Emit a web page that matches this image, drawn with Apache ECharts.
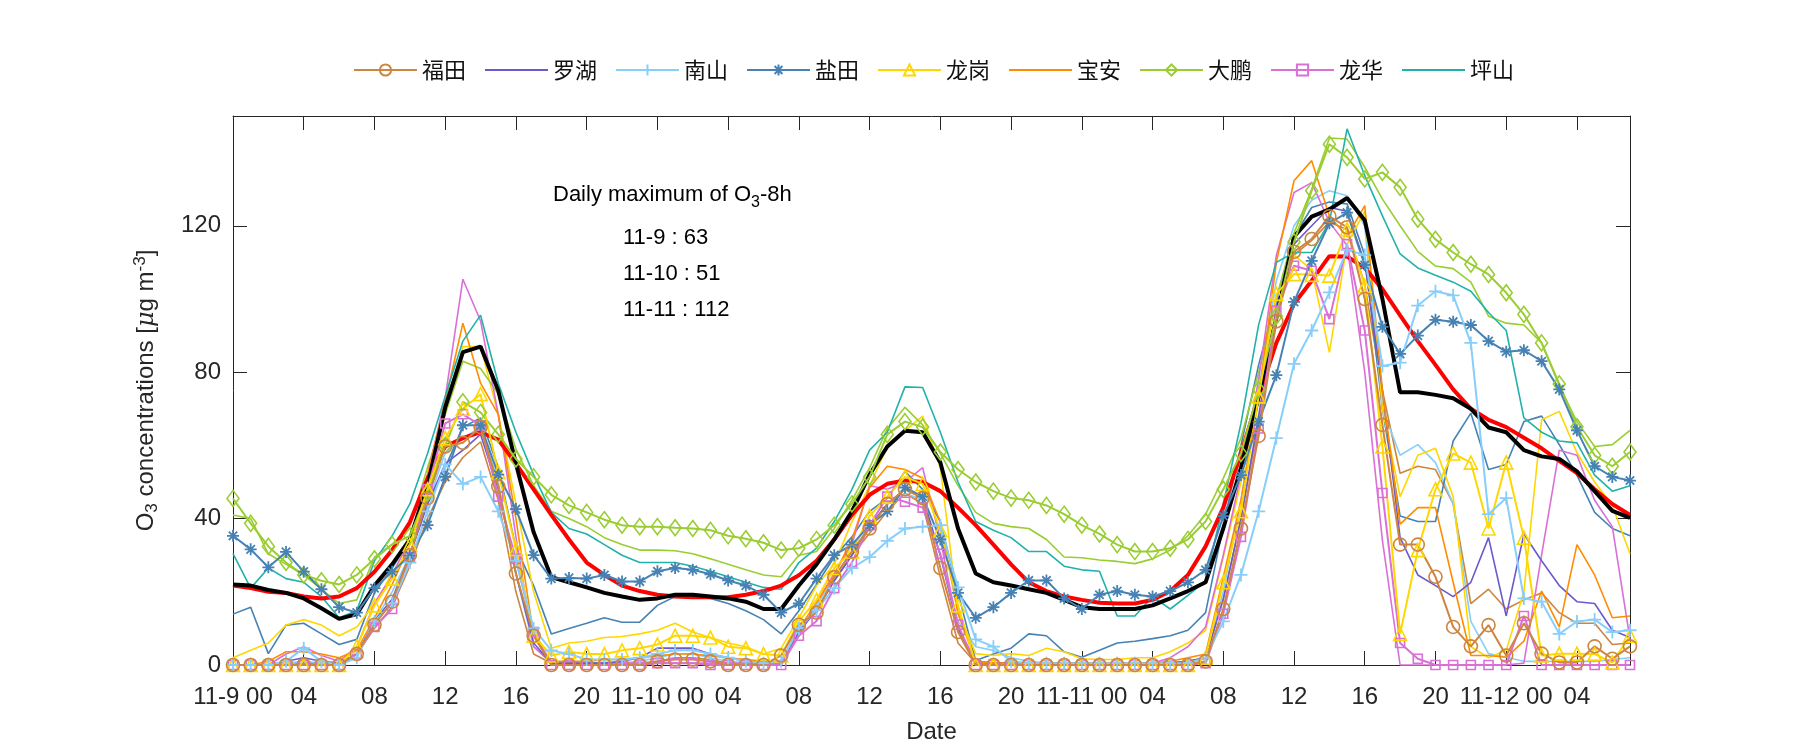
<!DOCTYPE html>
<html><head><meta charset="utf-8">
<script src="https://cdn.jsdelivr.net/npm/echarts@6/dist/echarts.min.js"></script>
<style>html,body{margin:0;padding:0;background:#fff}#c{width:1800px;height:750px}</style>
</head><body><div id="c"></div>
<script>
// ---- axis / label data ----
const dayLabels = ['11-9', '11-10', '11-11', '11-12'];
const yTicks = [0, 40, 80, 120];
const dailyMaxDays = ['11-9', '11-10', '11-11'];
const dailyMaxVals = [63, 51, 112];
const stationNames = ['福田', '罗湖', '南山', '盐田', '龙岗', '宝安', '大鹏', '龙华', '坪山'];

// ---- hourly series (11-9 00 ... 11-12 07) ----
const blackMean = [22,21.7,20.5,19.7,18.2,15.5,12.6,13.9,21.7,27.5,34.3,49,70.4,85.5,87,75,55,36.3,24,22.6,21.2,19.7,18.7,17.8,18.2,19.2,19.2,18.7,18.2,17.3,15.3,15.3,21.7,27.5,34.3,42,52,59.7,64,63.6,55.3,37.3,25,22.6,21.7,20.7,19.7,17.8,15.8,15.3,15.3,15.3,16.3,18.2,20.2,22.6,37.3,53.9,73.4,94.8,117,122.5,124.5,127.6,121.5,100,74.5,74.5,73.8,72.9,70,64.9,63.6,58.7,57,56.3,52.9,47.5,42.1,40.2];
const redMean = [21.7,21,20,19.7,18.7,18.2,18.7,21,25.5,31.4,39,51,59.7,62,63.6,61.6,55,48,41,34.3,28,24.6,21.7,20.2,19.2,18.7,18.5,18.5,18.5,19.2,20.2,21.7,24.5,28.5,34.3,41,46.5,49.5,50.4,50,47.5,43,38.2,32.9,27.5,22.6,20.2,18.7,17.8,17,16.8,16.8,17.8,20.2,24.6,32.4,43,57.8,73.4,88,98.7,105,111.7,111.6,108.5,102.7,95.5,88.5,82,75.3,70,67,65,62.1,59.2,55.8,52.4,48,44,41];

const futian = [0,0,0,0,0,0,0,3,11,17.3,30,45.6,59.7,60.7,65,48.8,25,8,0,0,0,0,0,0,1,1.5,1.5,1,0,0,0,2.6,11,14.3,24,31,37.3,44,48,45.6,26.5,9,0,0,0,0,0,0,0,0,0,0,0,0,0,1,15.3,37.3,62.6,93.9,112.9,116.4,122.6,119.6,100,65.6,32.9,32.9,24.1,10.4,5.1,10.9,2.6,11.4,3.1,0.7,0.7,5.1,1.7,5.1];
const futian2 = [0,0,0,0,0.5,0.5,0.5,3,10,16,27,40,50,56.7,61,45,20,3,0.5,0.5,0.5,0.5,0.5,0.5,1,2,2,1.5,0.5,0.5,0.5,1,10,15,23,30,36,42,47,44,24,6,0.5,0.5,0.5,0.5,0.5,0.5,0.5,0.5,0.5,0.5,0.5,0.5,1,2,18,40,66,95,112,116,121,119,104,75,52.4,54.3,53.4,44.1,16.8,20.7,15.3,17.8,19.7,14.3,11.4,11.4,5.6,6];
const luohu = [0,0,0,1,2,1,0.5,3,12,18,30,44,55,58.7,63,48,25,6,0.5,0.5,0.5,0.5,1,2,4.6,4.6,4.6,3,2,1,0.5,1,9,15,23,30,38,44,48,46,30,10,1,0.5,0.5,0.5,0.5,0.5,0.5,0.5,0.5,0.5,0.5,0.5,1,2,18,40,68,98,115,120,125,124,110,75,34.8,24.6,21.7,18.7,22.6,34.8,13.4,35.8,28.5,21.7,17.3,16.8,9.5,7.5];
const nanshan = [0,0,0,1,4.6,1,0,2,11.9,16.8,28,42,54.8,49.5,51.4,42,28.5,10,4,3,1.5,1.5,1.5,2,3,4,4,3,2,1,0.5,1,10,15,21,26.5,29.5,33.9,37.3,37.8,38.2,21.2,7,5,1,0.5,0.5,0.5,0.5,0.5,0.5,0.5,0.5,0.5,0.5,2,11.9,24.6,42,62,82.3,91.4,101.8,113.4,112,81.7,82.6,98.2,102.1,101,88,41.2,45.6,18.2,17.3,8.5,11.9,12.4,9,9.5];
const nanshan2 = [0,0,0,0.5,1,0.5,0,2,12,20,30,44,58,62,65,50,25,5,1,0.5,0.5,0.5,0.5,1,2,3,3,2,1,0.5,0.5,0.5,9,16,24,31,38,44,47,45,30,12,5,4,2,1,0.5,0.5,0.5,0.5,0.5,0.5,0.5,0.5,1,2,20,45,75,105,120,127,129.6,128.2,120,70,57.3,60.2,55.3,44.1,11.9,3.1,2.1,1,1,1,1,1,1.5,2];
const yantian = [35.3,31.6,26.7,30.9,25.5,20.7,15.8,14.3,21,25.5,29.9,38.2,51.4,65.5,65.5,52,42.6,30,23.6,23.8,23.6,24.6,22.8,22.8,25.6,26.5,26,24.8,23.1,21.7,19.2,14.3,16.8,23.6,30,32.9,38.2,42,48.5,46,34.3,19.7,12.9,15.8,19.7,23.1,23.1,18.2,15.3,19.2,20.2,19.2,18.7,20.2,22.6,26,40.7,51.9,66.5,79.2,99.2,110.4,120.7,123.6,109.3,92.4,85,90,94.3,93.8,92.9,88.5,85.6,86,83,75.3,64.1,54.3,51.4,50.4];
const yantian2 = [13.9,15.8,3.1,10.9,11.4,8.5,5.6,7,19.7,26.5,34.3,44,54,65,67.5,54,32,21.7,8.5,10,11.4,12.9,11.7,11.7,16.3,18.7,18.5,18.2,16.8,14.8,12.4,8.5,14.8,22,29.5,35,42,45.6,52.9,48,39.2,19.7,1.2,3,4.6,8.5,8,3.6,2.1,4,6,6.5,7.2,8,9.5,14.3,38,60,82,100,117,125,126.5,126,112,70,40.7,39.2,39.2,61.2,68.8,53.4,54.8,66.5,68,60.2,51.9,41.7,37.3,35.3];
const longgang = [0,0,0,0,0,0,0,5,16.3,23.6,32.9,48,62,70,74,52.7,31.7,8,2.6,3.6,3,3,4,4.6,5.6,8,8,7.5,5,4.6,3,2.6,11.9,17.8,26.5,31,40.7,46,51.4,49.5,36.8,16.3,0,0,0,0,0,0,0,0,0,0,0,0,0,2,22.6,42,73.4,101.4,106.8,106.6,106.4,119.1,103.6,59.7,8.5,31.4,48,57.8,55.3,37.3,55.3,34.8,2.6,3.1,3.1,3,0.7,8];
const longgang2 = [2,4,6,10.9,12.4,10.9,8,10.4,16.8,24.6,34.3,49,68.5,87,87,68.5,44,20,4.6,6,6.5,7.5,7.8,8.5,9.5,11.4,9,7.5,6,5,3,4.6,12.9,21.7,27.5,39.2,49,59.7,64,68,53.9,14.8,3.1,2.6,3.1,2.6,4.6,3.6,1.7,1.5,1.5,2,2,3.6,6,9.5,29.5,50,72,96,112,108,85.4,115,124,70,46,57.3,59.2,46,5,2,4,20,67,69.3,58,50,43.6,30.4];
const baoan = [0,0,1,3.6,3.6,3,2,4,12.9,22,33,52,72,93.4,77,68.5,40,8,1,1,1,1.5,1.5,2,2.5,3,3,2.5,2,1.5,1,1,10,17,24.6,34.3,48.5,54.3,53.4,51,39,14,1,0.5,0.5,0.5,0.5,0.5,0.5,0.5,0.5,0.5,0.5,1,2,3,24,45,73,110,132.3,137.8,122.7,117,125.5,75,38.5,43,43,22.6,2.6,2.6,2.1,6.5,20.2,10.4,32.9,24.6,12.9,13.4];
const dapeng = [45.5,38.7,32.4,28,24.6,23,22,24.6,29,32.9,35.3,47,60,71.9,69,63,56.3,51.4,46.5,43.6,41.7,39.7,38.2,37.8,37.8,37.5,37.3,36.8,35.3,34.5,33.4,31.4,31.9,34.3,38.2,44,51.4,63,66.5,65,58.2,53.4,50,47.5,45.6,45,43.6,41.2,38.2,35.8,32.9,31,31,31.9,34.3,39.2,48,57.8,75.3,95.3,115.6,129.6,142.3,138.7,132.8,134.6,130.5,121.8,116.3,112.7,109.5,106.7,101.7,95.8,88,76.8,65.1,57.3,54.3,58.2];
const dapeng2 = [41,40,30.4,27.5,24.6,20.7,16.8,17.8,29.5,33,38,54,68.5,83,81,74,59,49,42,40,37.8,34.8,32.9,31.4,31.4,31.2,30.4,29,27.5,26,24.6,24.1,30,31,37.3,45,53.9,64.6,70.4,65.6,57.8,49,41.7,38.7,37.8,37.3,34.3,29.5,29.3,28.7,28.3,27.7,29,31.4,35.3,41.2,51,62,80,100,118,130,144,143.7,136,127.3,120,113,109,108.3,104.6,95.3,93.4,92.9,88,76.3,66.5,59.7,60.2,64.1];
const longhua = [0,0,0,0,0,0,0,3,10.4,15.3,29.5,48,66,68.5,65.5,46,29,9,0,0,0,0,0,0,0.5,0.5,0.5,0,0,0,0,0,8,12,21,28,38.2,46,44.6,43,30.4,11,0,0,0,0,0,0,0,0,0,0,0,0,0,0.5,14,35,64.6,96.8,109.1,107.7,94.5,115,91.4,47,6,1.7,0,0,0,0,0,13.4,0,0,0,0,0,0];
const longhua2 = [0,0,0,3,5,2.6,1,5,16.8,24.6,34.3,52,73,105.4,94,68.5,35,5,0.5,0.5,0.5,0.5,0.5,0.5,0.5,0.5,0.5,0.5,0.5,0.5,0.5,0.5,8,17,25,33,49,48,50,53.9,34.3,10,0.5,0.5,0.5,0.5,0.5,0.5,0.5,0.5,0.5,0.5,0.5,2,5,10.4,30,52,78,111.9,129.1,131.8,121,114.6,80,34,0,0,0,0,0,0,0,0.5,30,58.7,57.3,45,37.8,7];
const pingshan = [30.4,21,26.5,23.6,22.6,18.7,12.9,14.8,28.5,35.3,44,57.8,73.4,88.5,95.6,77,63.6,52,41.7,37.3,35.8,32.9,30,28,28,28,27,25.6,24.1,22.6,21.2,20.7,28,31.9,39.2,48,58.7,63.6,76,75.8,63.6,50,39.2,36.8,34.8,31,31,27,26,25.6,13.4,13.4,18.7,15.3,19,23,44,66,93,110,112.7,112.7,121,146.5,133.7,122.7,112.3,108.5,106.5,104.6,102.1,96.3,91.4,67.5,63.6,61.2,60.7,51.9,47.5,49];

// ---- styles ----
const C = {ft:'#CD853F', lh:'#6A5ACD', ns:'#87CEFA', yt:'#4682B4', lg:'#FFD700', ba:'#FF8C00', dp:'#9ACD32', hua:'#DA70D6', ps:'#20B2AA'};
const PLUS = 'path://M5,0L5,10M0,5L10,5';
const STAR = 'path://M5,0L5,10M0,5L10,5M1.5,1.5L8.5,8.5M8.5,1.5L1.5,8.5';
const toXY = arr => arr.map((v, i) => [i, v]);
const CLEAR = 'rgba(0,0,0,0)';

function line(name, arr, color, width, z, marker) {
  const s = {
    type: 'line', name: name, data: toXY(arr), z: z, clip: false,
    color: color, lineStyle: {color: color, width: width},
    emphasis: {disabled: true}, animation: false
  };
  if (marker) {
    s.symbol = marker.symbol; s.symbolSize = marker.size; s.showSymbol = true;
    s.itemStyle = {color: CLEAR, borderColor: color, borderWidth: marker.bw || 1.6};
  } else {
    s.symbol = 'none'; s.showSymbol = false;
    s.itemStyle = {color: CLEAR, borderColor: CLEAR, borderWidth: 0};
  }
  return s;
}

const series = [
  line('福田 ', futian2, C.ft, 1.6, 2),
  line('南山 ', nanshan2, C.ns, 1.6, 2),
  line('盐田 ', yantian2, C.yt, 1.6, 2),
  line('龙岗 ', longgang2, C.lg, 1.6, 2),
  line('大鹏 ', dapeng2, C.dp, 1.6, 2),
  line('龙华 ', longhua2, C.hua, 1.6, 2),
  line('罗湖', luohu, C.lh, 1.6, 2),
  line('宝安', baoan, C.ba, 1.6, 2),
  line('坪山', pingshan, C.ps, 1.6, 2),
  line('mean2', redMean, '#FF0000', 4, 3),
  line('mean1', blackMean, '#000000', 4, 3),
  line('龙华', longhua, C.hua, 2, 4, {symbol: 'rect', size: 9}),
  line('大鹏', dapeng, C.dp, 2, 4, {symbol: 'diamond', size: [12, 16]}),
  line('龙岗', longgang, C.lg, 2, 4, {symbol: 'triangle', size: 13}),
  line('盐田', yantian, C.yt, 2, 4, {symbol: STAR, size: 12, bw: 1.8}),
  line('南山', nanshan, C.ns, 2, 4, {symbol: PLUS, size: 13, bw: 1.8}),
  line('福田', futian, C.ft, 2, 4, {symbol: 'circle', size: 13})
];

const fmtHour = v => {
  if (v % 4 !== 0) return '';
  const d = Math.floor(v / 24), h = v % 24;
  return h === 0 ? dayLabels[d] + ' 00' : (h < 10 ? '0' : '') + h;
};

const axisCol = '#262626';
const FONT = 'Liberation Sans';
const baseAxis = () => ({
  axisLine: {show: true, onZero: false, lineStyle: {color: axisCol, width: 1}},
  axisTick: {show: true, inside: true, length: 14, lineStyle: {color: axisCol, width: 1}},
  splitLine: {show: false}
});

const option = {
  backgroundColor: '#fff',
  animation: false,
  grid: {left: 233, right: 170, top: 116, bottom: 85, containLabel: false},
  legend: {
    data: stationNames, left: 353, top: 59, itemWidth: 63, itemHeight: 14, itemGap: 18,
    padding: 0, selectedMode: false,
    textStyle: {fontFamily: 'Noto Sans CJK SC', fontSize: 22, color: '#111'}
  },
  xAxis: [
    Object.assign(baseAxis(), {
      type: 'value', min: 0, max: 79, interval: 4, position: 'bottom',
      name: 'Date', nameLocation: 'middle', nameGap: 55,
      nameTextStyle: {fontFamily: FONT, fontSize: 24, color: axisCol},
      axisLabel: {formatter: fmtHour, fontFamily: FONT, fontSize: 24, color: axisCol, margin: 20, showMaxLabel: false, showMinLabel: true, hideOverlap: false}
    }),
    Object.assign(baseAxis(), {
      type: 'value', min: 0, max: 79, interval: 4, position: 'top',
      axisLabel: {show: false}
    })
  ],
  yAxis: [
    Object.assign(baseAxis(), {
      type: 'value', min: 0, max: 150, interval: 40, position: 'left',
      name: 'O{sub|3} concentrations [{it|μ}g m{sup|-3}]', nameLocation: 'middle', nameGap: 72, nameRotate: 90,
      nameTextStyle: {fontFamily: FONT, fontSize: 24, color: axisCol,
        rich: {sub: {fontFamily: FONT, fontSize: 17, color: axisCol, verticalAlign: 'bottom', padding: [12, 0, 0, 0]},
               sup: {fontFamily: FONT, fontSize: 17, color: axisCol, verticalAlign: 'top', padding: [0, 0, 10, 0]},
               it: {fontFamily: 'DejaVu Serif', fontStyle: 'italic', fontSize: 24, color: axisCol}}},
      axisLabel: {fontFamily: FONT, fontSize: 24, color: axisCol, margin: 12, showMaxLabel: false,
        formatter: v => yTicks.indexOf(v) >= 0 ? String(v) : ''}
    }),
    Object.assign(baseAxis(), {
      type: 'value', min: 0, max: 150, interval: 40, position: 'right',
      axisLabel: {show: false}
    })
  ],
  graphic: [
    {type: 'text', left: 553, top: 184, silent: true,
     style: {text: 'Daily maximum of O{sub|3}-8h', fontFamily: FONT, fontSize: 22, fill: '#000',
       rich: {sub: {fontFamily: FONT, fontSize: 16, fill: '#000', verticalAlign: 'bottom', padding: [16, 0, 0, 0]}}}}
  ].concat(dailyMaxDays.map((d, i) => ({
    type: 'text', left: 623, top: 227 + i * 36, silent: true,
    style: {text: d + ' : ' + dailyMaxVals[i], fontFamily: FONT, fontSize: 22, fill: '#000'}
  }))),
  series: series
};

const chart = echarts.init(document.getElementById('c'), null, {renderer: 'canvas'});
chart.setOption(option);
</script>
</body></html>
